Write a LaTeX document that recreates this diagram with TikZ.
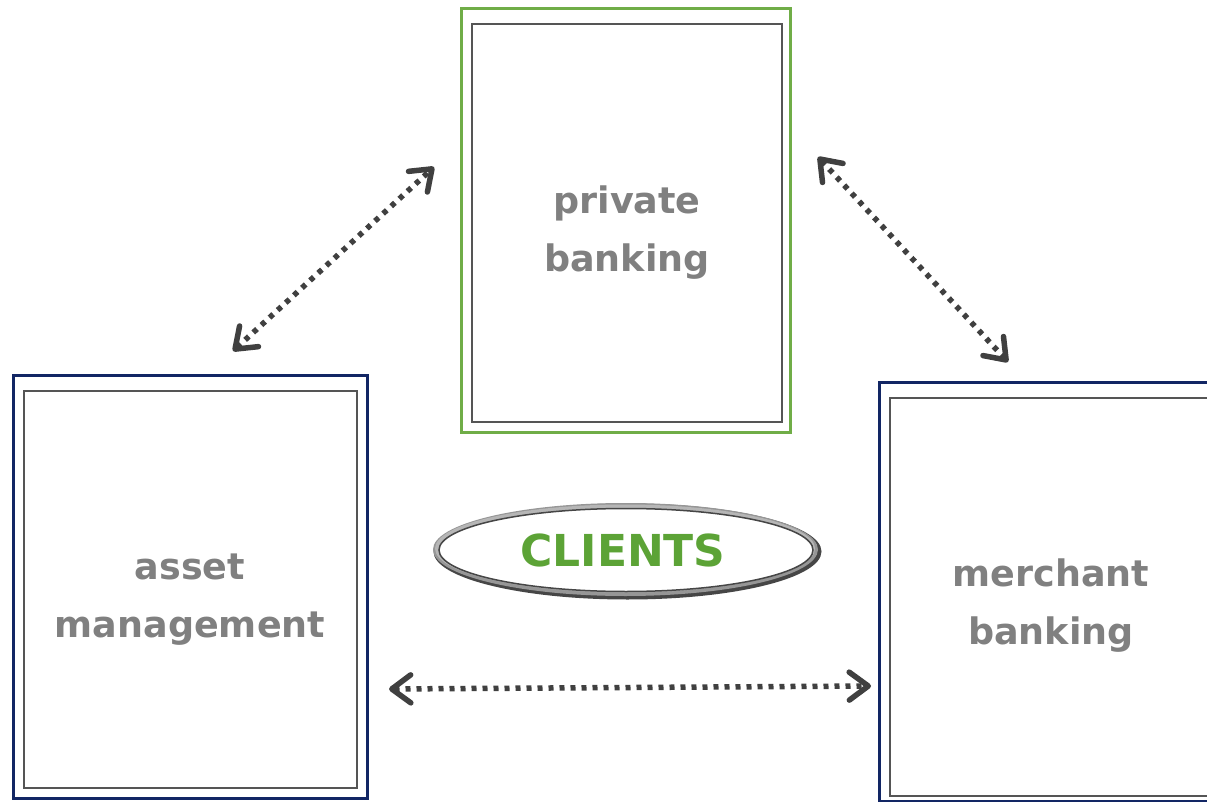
\documentclass[tikz,border=0pt]{standalone}
\usepackage{fontspec}
\setmainfont{DejaVu Sans}
\usetikzlibrary{arrows.meta,shapes.geometric}
\definecolor{labelgray}{RGB}{128,128,128}
\definecolor{clientgreen}{RGB}{92,163,54}
\definecolor{boxgreen}{RGB}{112,173,71}
\definecolor{boxnavy}{RGB}{18,38,100}
\definecolor{innergray}{RGB}{85,85,85}
\definecolor{arrowgray}{RGB}{64,64,64}
\definecolor{rimdark}{RGB}{70,70,70}
\definecolor{rimlight}{RGB}{150,150,150}
\tikzset{
  outerbox/.style={draw=#1, line width=3pt, inner sep=0pt},
  innerbox/.style={draw=innergray, line width=2.2pt, inner sep=0pt},
  boxlabel/.style={font=\fontsize{36.5}{58}\selectfont\bfseries, text=labelgray, align=center, inner sep=0pt},
  clientstext/.style={font=\fontsize{44}{50}\selectfont\bfseries, text=clientgreen, inner sep=0pt},
  barb/.tip={Straight Barb[round,length=19pt,width=28pt,line width=5.5pt]},
  link/.style={draw=arrowgray, line width=5.5pt, line cap=butt, dash pattern=on 5pt off 6pt, barb-barb}
}
\begin{document}
\begin{tikzpicture}[x=1pt,y=-1pt]
\useasboundingbox (0,0) rectangle (1207,802);
\clip (0,0) rectangle (1207,802);
\fill[white] (0,0) rectangle (1207,802);

% private banking
\node[outerbox=boxgreen, minimum width=329pt, minimum height=423pt] (pbout) at (625.5,220.5) {};
\node[innerbox, minimum width=310pt, minimum height=398pt] (pbin) at (627,223) {};
\node[boxlabel] (pbtext) at (627,233) {private\\banking};

% asset management
\node[outerbox=boxnavy, minimum width=354pt, minimum height=423pt] (amout) at (190,586.5) {};
\node[innerbox, minimum width=333pt, minimum height=397pt] (amin) at (190.5,589.5) {};
\node[boxlabel] (amtext) at (190,600) {asset\\management};

% merchant banking
\node[outerbox=boxnavy, minimum width=342pt, minimum height=419pt] (mbout) at (1050,591.5) {};
\node[innerbox, minimum width=325pt, minimum height=398pt] (mbin) at (1052.5,597) {};
\node[boxlabel] (mbtext) at (1051,606) {merchant\\banking};

% clients ellipse
\fill[rimdark] (627.5,551.5) ellipse [x radius=194, y radius=48];
\fill[rimlight] (625.5,549.5) ellipse [x radius=192.5, y radius=46.5];
\fill[rimlight!70!white] (625,548.5) ellipse [x radius=190, y radius=44];
\node[ellipse, draw=rimdark, line width=1.5pt, fill=white, minimum width=374pt, minimum height=83pt, inner sep=0pt] (clients) at (626,550) {};
\node[clientstext] (clientslabel) at (623,550) {CLIENTS};

% arrows
\coordinate (a1) at (233,351);
\coordinate (a2) at (434,167);
\coordinate (b1) at (818,157);
\coordinate (b2) at (1008,362);
\coordinate (c1) at (389,689);
\coordinate (c2) at (871,686);
\draw[link] (a1) -- (a2);
\draw[link] (b1) -- (b2);
\draw[link] (c1) -- (c2);
\end{tikzpicture}
\end{document}
